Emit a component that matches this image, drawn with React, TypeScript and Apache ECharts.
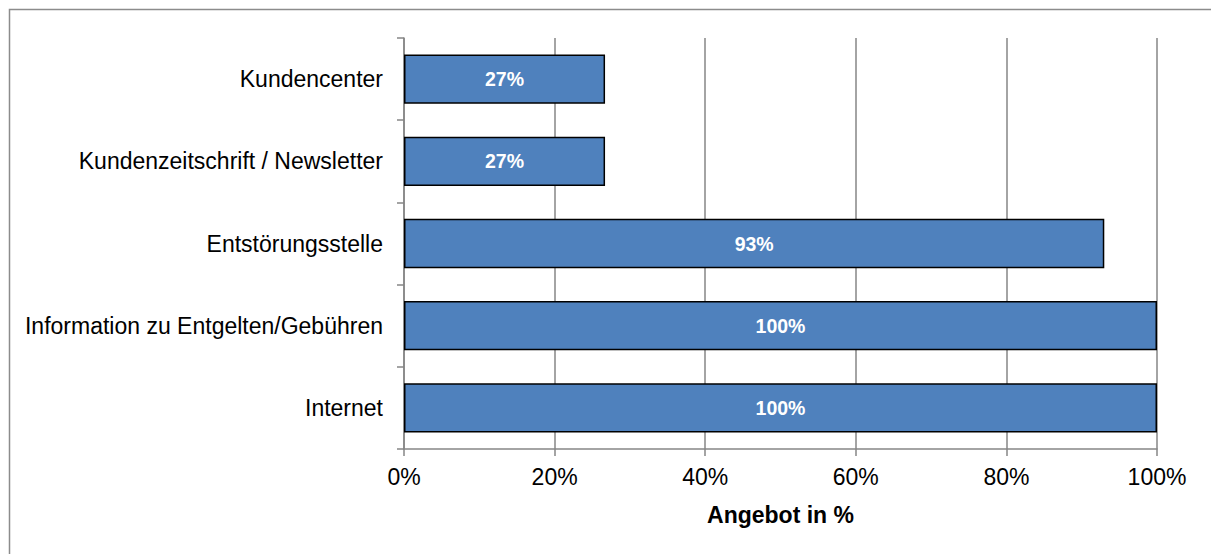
import React, { useEffect, useRef } from "react";
import * as echarts from "echarts";

const categories = [
  "Internet",
  "Information zu Entgelten/Gebühren",
  "Entstörungsstelle",
  "Kundenzeitschrift / Newsletter",
  "Kundencenter",
];
const values = [100, 100, 93, 26.7, 26.7];
const xTicks = [0, 20, 40, 60, 80, 100];
const axisTitle = "Angebot in %";

const FONT = "'Liberation Sans', Arial, Helvetica, sans-serif";
const GRAY = "#868686";

export default function App() {
  const ref = useRef<HTMLDivElement>(null);
  useEffect(() => {
    if (!ref.current) return;
    const chart = echarts.init(ref.current, undefined, { renderer: "svg" });
    chart.setOption({
      animation: false,
      backgroundColor: "#ffffff",
      textStyle: { fontFamily: FONT },
      graphic: [
        {
          type: "rect",
          shape: { x: 9.5, y: 9.5, width: 1230, height: 580 },
          style: { fill: "none", stroke: "#8c8c8c", lineWidth: 1.5 },
          silent: true,
        },
      ],
      grid: { left: 404, right: 54, top: 38, bottom: 105, containLabel: false },
      xAxis: {
        type: "value",
        min: xTicks[0],
        max: xTicks[xTicks.length - 1],
        interval: 20,
        name: axisTitle,
        nameLocation: "middle",
        nameGap: 54,
        nameTextStyle: {
          fontFamily: FONT,
          fontSize: 23,
          fontWeight: "bold",
          color: "#000",
        },
        axisLine: { show: true, lineStyle: { color: GRAY, width: 1.5 } },
        axisTick: { show: true, inside: false, length: 7, lineStyle: { color: GRAY, width: 1.5 } },
        axisLabel: {
          margin: 16,
          fontFamily: FONT,
          fontSize: 23,
          color: "#000",
          formatter: (v: number) => `${v}%`,
        },
        splitLine: { show: true, lineStyle: { color: GRAY, width: 1.5 } },
      },
      yAxis: {
        type: "category",
        data: categories,
        axisLine: { show: true, lineStyle: { color: GRAY, width: 1.5 } },
        axisTick: { show: true, inside: false, length: 7, lineStyle: { color: GRAY, width: 1.5 } },
        axisLabel: {
          margin: 21,
          fontFamily: FONT,
          fontSize: 23,
          color: "#000",
        },
        splitLine: { show: false },
      },
      series: [
        {
          type: "bar",
          data: values,
          barCategoryGap: "40%",
          itemStyle: { color: "#4F81BD", borderColor: "#000", borderWidth: 1.5 },
          label: {
            show: true,
            position: "inside",
            color: "#fff",
            fontFamily: FONT,
            fontWeight: "bold",
            fontSize: 19.5,
            formatter: (p: any) => `${Math.round(p.value)}%`,
          },
        },
      ],
    });
    return () => chart.dispose();
  }, []);
  return (
    <div
      ref={ref}
      style={{ position: "absolute", left: 0, top: 0, width: 1211, height: 554 }}
    />
  );
}
